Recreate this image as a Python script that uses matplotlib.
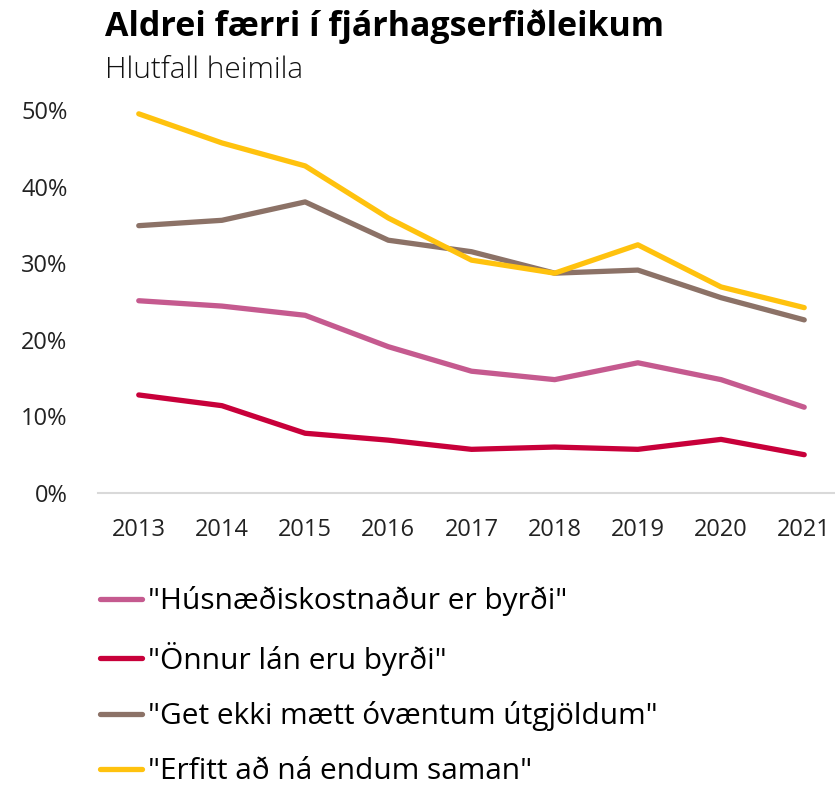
import matplotlib
matplotlib.use("Agg")
import matplotlib.pyplot as plt

plt.rcParams['font.family'] = ['Open Sans', 'DejaVu Sans']

# gögn
ar = [2013, 2014, 2015, 2016, 2017, 2018, 2019, 2020, 2021]
husnaedi = [25.1, 24.4, 23.2, 19.1, 15.9, 14.8, 17.0, 14.8, 11.2]
onnur_lan = [12.8, 11.4, 7.8, 6.9, 5.7, 6.0, 5.7, 7.0, 5.0]
ovaent = [34.9, 35.6, 38.0, 33.0, 31.5, 28.7, 29.1, 25.5, 22.6]
erfitt = [49.5, 45.7, 42.7, 35.9, 30.4, 28.7, 32.4, 26.9, 24.2]

heiti = ['"Húsnæðiskostnaður er byrði"', '"Önnur lán eru byrði"',
         '"Get ekki mætt óvæntum útgjöldum"', '"Erfitt að ná endum saman"']
litir = ['#C55A8F', '#C8003A', '#8C7267', '#FFC20E']
y_ticks = [0, 10, 20, 30, 40, 50]

fig = plt.figure(figsize=(8.35, 7.85), dpi=100)
ax = fig.add_axes([98/835, 1 - 493/785, 737/835, 383/785])

for gildi, litur, h in zip([husnaedi, onnur_lan, ovaent, erfitt], litir, heiti):
    ax.plot(ar, gildi, color=litur, lw=3.8, label=h, solid_capstyle='round', clip_on=False)

ax.set_xlim(2012.51, 2021.37)
ax.set_ylim(0, 50)
ax.set_yticks(y_ticks)
ax.set_yticklabels([f"{v}%" for v in y_ticks])
ax.set_xticks(ar)
ax.tick_params(axis='both', length=0, labelsize=17, colors='#222222')
ax.tick_params(axis='y', pad=22)
ax.tick_params(axis='x', pad=18)
for s in ['top', 'right', 'left']:
    ax.spines[s].set_visible(False)
ax.spines['bottom'].set_color('#D9D9D9')
ax.spines['bottom'].set_linewidth(1.5)

fig.text(105/835, 1 - 27/785, "Aldrei færri í fjárhagserfiðleikum", fontsize=24.5,
         fontweight='bold', va='center', ha='left', color='black')
fig.text(105/835, 1 - 70/785, "Hlutfall heimila", fontsize=21.5, fontweight='light',
         va='center', ha='left', color='#111111')

fig.legend(loc='upper left', bbox_to_anchor=(100/835, 1 - 586/785), frameon=False,
           fontsize=21.5, handlelength=1.4, handletextpad=0.2, labelspacing=0.86,
           borderaxespad=0, borderpad=0)

fig.savefig("out.png", dpi=100)
